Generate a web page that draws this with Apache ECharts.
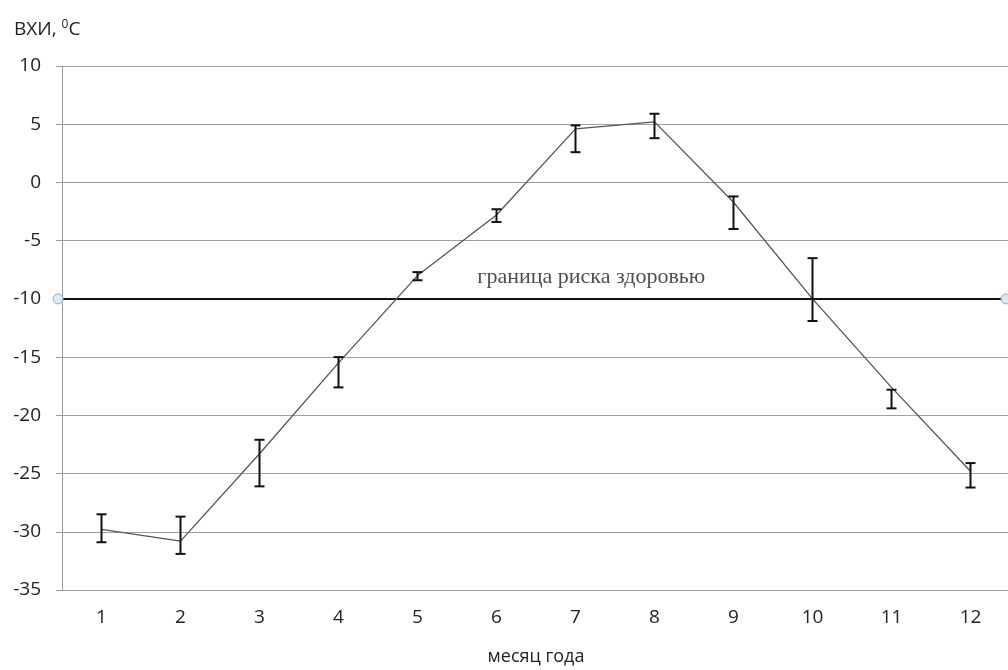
<!DOCTYPE html>
<html>
<head>
<meta charset="utf-8">
<script src="https://cdn.jsdelivr.net/npm/echarts@6/dist/echarts.min.js"></script>
<style>html,body{margin:0;padding:0;background:#fff}#c{width:1008px;height:670px}</style>
</head>
<body>
<div id="c"></div>
<script>
var months = ['1','2','3','4','5','6','7','8','9','10','11','12'];
var values = [-29.8, -30.8, -23.3, -15.5, -8.0, -2.8, 4.6, 5.2, -1.7, -10.0, -17.6, -24.8];
var errHigh = [-28.5, -28.7, -22.1, -15.0, -7.7, -2.3, 4.9, 5.9, -1.2, -6.5, -17.8, -24.1];
var errLow = [-30.9, -31.9, -26.1, -17.6, -8.4, -3.4, 2.6, 3.8, -4.0, -11.9, -19.4, -26.2];
var yTicks = [10, 5, 0, -5, -10, -15, -20, -25, -30, -35];
var riskLevel = -10;
var riskLabel = 'граница риска здоровью';
var riskLineX = [0.45, 12.45];
var riskLabelX = 7.2;

var FONT = '"Open Sans", sans-serif';
var chart = echarts.init(document.getElementById('c'));
var errData = months.map(function (m, i) { return [i, errLow[i], errHigh[i]]; });

chart.setOption({
  animation: false,
  backgroundColor: '#fff',
  title: {
    text: 'ВХИ, {sup|0}C',
    left: 9, top: 14,
    textStyle: {
      fontFamily: FONT, fontSize: 19, fontWeight: 'normal', color: '#222',
      rich: { sup: { fontFamily: FONT, fontSize: 12, color: '#222', verticalAlign: 'top', padding: [0, 0, 10, 0] } }
    }
  },
  grid: { left: 62, right: -2, top: 66, bottom: 80, outerBoundsMode: 'none', containLabel: false },
  xAxis: [{
    type: 'category', data: months, boundaryGap: true,
    axisLine: { lineStyle: { color: '#9a9a9a', width: 1 } },
    axisTick: { show: false },
    axisLabel: { fontFamily: FONT, fontSize: 19, color: '#222', margin: 18 },
    name: 'месяц года', nameLocation: 'middle', nameGap: 58,
    nameTextStyle: { fontFamily: FONT, fontSize: 18, color: '#222' }
  }, {
    type: 'value', min: 0.5, max: 12.5, show: false
  }],
  yAxis: {
    type: 'value', min: -35, max: 10, interval: 5,
    axisLine: { show: true, lineStyle: { color: '#9a9a9a', width: 1 } },
    axisTick: { show: true, length: 6, lineStyle: { color: '#9a9a9a' } },
    axisLabel: { fontFamily: FONT, fontSize: 19, color: '#222', margin: 21 },
    splitLine: { lineStyle: { color: '#a0a0a0', width: 1.2 } }
  },
  series: [{
    type: 'line', data: values, xAxisIndex: 0,
    symbol: 'none', lineStyle: { color: '#555', width: 1.3 }, z: 3
  }, {
    type: 'custom', xAxisIndex: 0, data: errData, z: 4,
    renderItem: function (params, api) {
      var x = api.value(0);
      var lo = api.coord([x, api.value(1)]);
      var hi = api.coord([x, api.value(2)]);
      var w = 5;
      var st = { stroke: '#111', lineWidth: 2 };
      return { type: 'group', children: [
        { type: 'line', shape: { x1: lo[0], y1: lo[1], x2: hi[0], y2: hi[1] }, style: st },
        { type: 'line', shape: { x1: lo[0] - w, y1: lo[1], x2: lo[0] + w, y2: lo[1] }, style: st },
        { type: 'line', shape: { x1: hi[0] - w, y1: hi[1], x2: hi[0] + w, y2: hi[1] }, style: st }
      ]};
    }
  }, {
    type: 'line', xAxisIndex: 1, clip: false, z: 2,
    data: [[riskLineX[0], riskLevel], [riskLineX[1], riskLevel]],
    symbol: 'circle', symbolSize: 10, showSymbol: true,
    itemStyle: { color: '#dce8f3', borderColor: '#8fb0cc', borderWidth: 1 },
    lineStyle: { color: '#111', width: 2 }
  }, {
    type: 'scatter', xAxisIndex: 1, symbolSize: 0, z: 5,
    data: [[riskLabelX, riskLevel]],
    label: { show: true, position: 'top', distance: 11, formatter: riskLabel,
      fontFamily: '"Liberation Serif", serif', fontSize: 22, color: '#222' }
  }]
});
</script>
</body>
</html>
